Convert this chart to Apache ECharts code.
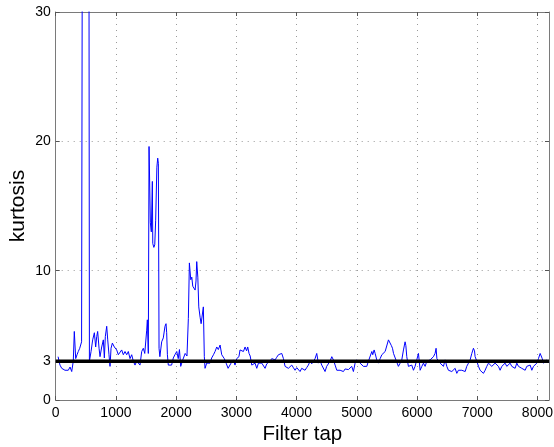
<!DOCTYPE html>
<html>
<head>
<meta charset="utf-8">
<script src="https://cdn.jsdelivr.net/npm/echarts@6/dist/echarts.min.js"></script>
<style>
html,body{margin:0;padding:0;background:#fff;}
#c{width:554px;height:447px;}
</style>
</head>
<body>
<div id="c"></div>
<script>
var taps = [40,71,100,126,154,183,209,238,266,292,309,332,354,375,399,430,445,550,560,587,614,642,664,681,697,720,736,764,791,808,824,847,864,885,902,919,941,974,1013,1040,1068,1096,1123,1151,1179,1206,1234,1262,1289,1317,1346,1372,1400,1428,1455,1479,1511,1522,1538,1550,1572,1588,1605,1612,1630,1645,1660,1680,1694,1705,1716,1730,1760,1787,1815,1832,1843,1855,1870,1900,1925,1953,1980,2010,2035,2055,2076,2110,2150,2180,2203,2220,2243,2260,2276,2290,2315,2330,2342,2360,2376,2398,2415,2435,2452,2468,2480,2508,2535,2563,2590,2620,2646,2675,2700,2730,2757,2800,2830,2863,2890,2912,2950,2978,3006,3030,3043,3061,3089,3117,3145,3170,3189,3211,3230,3256,3284,3310,3339,3367,3395,3422,3450,3477,3505,3533,3560,3588,3615,3644,3670,3699,3726,3754,3782,3809,3837,3864,3892,3920,3947,3975,4003,4030,4058,4085,4113,4141,4168,4196,4224,4252,4280,4307,4335,4362,4390,4418,4445,4473,4500,4528,4556,4585,4612,4640,4668,4696,4723,4750,4778,4806,4833,4861,4889,4916,4944,4972,5000,5027,5055,5083,5110,5138,5166,5193,5220,5250,5265,5288,5305,5332,5360,5388,5416,5443,5471,5499,5526,5554,5575,5593,5610,5650,5691,5720,5747,5775,5802,5815,5830,5857,5885,5913,5941,5968,5996,6024,6035,6052,6080,6107,6135,6163,6190,6218,6246,6273,6300,6317,6330,6356,6384,6411,6439,6467,6495,6522,6550,6578,6605,6633,6661,6688,6716,6744,6771,6800,6826,6855,6882,6910,6937,6955,6965,6993,7021,7048,7076,7103,7131,7159,7187,7214,7242,7270,7297,7325,7352,7380,7408,7436,7463,7491,7519,7546,7574,7602,7629,7657,7685,7713,7740,7768,7796,7823,7851,7879,7907,7934,7962,7990,8017,8045,8062,8080,8100,8130,8158,8190];
var kurt = [3.35,2.7,2.45,2.6,2.3,2.45,2.3,2.55,2.2,3.0,5.3,3.2,3.5,3.75,4.0,4.5,45,45,3.0,3.75,4.65,5.2,4.1,4.9,5.3,4.0,3.35,4.1,4.65,3.25,4.9,5.7,4.65,3.5,2.6,4.0,4.4,4.1,3.87,3.5,3.35,3.87,3.5,3.75,3.5,3.75,3.2,3.5,3.0,2.7,3.0,2.85,2.7,3.75,4.0,3.6,5.4,6.2,3.6,19.6,13.7,13.0,16.9,12.1,11.8,12.0,13.9,18.0,18.7,18.3,4.0,3.35,4.5,4.8,5.7,5.9,5.2,3.5,2.7,2.85,2.7,3.25,3.5,3.75,3.2,3.9,2.6,3.1,3.6,3.4,6.3,10.6,9.3,9.5,8.8,8.9,8.5,9.2,10.7,9.5,7.2,6.4,5.9,5.9,7.2,3.35,2.45,2.85,2.7,2.85,3.25,3.5,3.75,4.1,3.9,4.25,3.5,3.2,2.85,2.45,2.5,2.85,3.1,2.7,3.2,3.1,3.35,3.87,4.0,3.75,4.1,3.8,4.1,3.6,3.4,2.7,2.6,2.85,2.45,2.85,2.95,2.85,3.0,2.45,2.8,2.7,3.0,3.2,3.1,3.1,3.3,3.5,3.5,3.6,3.2,2.6,2.5,2.45,2.6,2.7,2.5,2.3,2.5,2.45,2.2,2.45,2.6,2.3,2.5,2.7,3.0,2.8,3.0,3.2,3.6,2.85,3.05,2.7,2.6,2.2,2.6,2.7,3.0,3.35,3.1,2.7,2.3,2.4,2.3,2.35,2.2,2.4,2.3,2.35,2.45,2.6,2.2,2.85,3.1,3.0,2.85,2.7,2.6,2.45,2.6,3.0,3.1,3.75,3.5,3.87,3.6,3.1,2.85,3.2,3.5,3.4,3.75,3.87,4.65,4.5,4.2,4.0,3.6,3.1,2.6,2.85,3.1,3.87,4.5,4.2,3.35,2.6,2.5,2.7,2.3,2.6,3.1,3.6,3.1,2.3,2.6,2.85,2.6,3.0,2.85,3.1,3.0,3.35,3.6,4.0,3.2,3.1,2.85,3.0,2.6,3.1,2.6,2.3,2.45,2.2,2.3,2.45,2.06,2.3,2.2,2.3,2.45,2.2,2.6,2.85,3.1,3.6,4.0,3.8,3.35,3.0,2.6,2.3,2.2,2.06,2.3,2.6,2.85,2.7,2.6,2.6,2.85,3.0,2.6,2.3,2.6,2.7,2.85,2.6,2.45,2.85,2.6,2.7,2.45,2.85,2.6,2.7,2.45,2.6,2.3,2.6,2.45,2.7,2.3,2.6,2.45,2.85,3.2,3.6,3.75,3.2,2.85,2.7,3.1,2.9];
var refLevel = 3;
var xTicks = [0,1000,2000,3000,4000,5000,6000,7000,8000];
var yTicks = [0,3,10,20,30];
var xMax = 8192;

var blueData = taps.map(function(t,i){return [t,kurt[i]];});
var refData = [[0,refLevel],[xMax,refLevel]];

var axisLineStyle = {color:'#7a7a7a', width:1};
var tickStyle = {color:'#555', width:1};
var gridStyle = {color:'#9a9a9a', width:1, type:[1,5]};
var font = 'Liberation Sans, Arial, Helvetica, sans-serif';
var plain = function(v){return String(v);};

var chart = echarts.init(document.getElementById('c'), null, {renderer:'canvas'});
chart.setOption({
  animation:false,
  backgroundColor:'#fff',
  grid:{left:55.7, top:12, right:5, bottom:47, containLabel:false, outerBoundsMode:'none'},
  xAxis:[{
    type:'value', min:0, max:xMax, position:'bottom',
    axisLine:{show:true, onZero:false, lineStyle:axisLineStyle},
    axisTick:{show:true, inside:true, length:4, lineStyle:tickStyle, customValues:xTicks},
    axisLabel:{show:true, margin:6, color:'#000', fontSize:14, fontFamily:font, customValues:xTicks, formatter:plain},
    splitLine:{show:true, lineStyle:gridStyle},
    name:'Filter tap', nameLocation:'middle', nameGap:24, nameMoveOverlap:false,
    nameTextStyle:{fontSize:20.5, color:'#000', fontFamily:font}
  },{
    type:'value', min:0, max:xMax, position:'top',
    axisLine:{show:true, onZero:false, lineStyle:axisLineStyle},
    axisTick:{show:true, inside:true, length:4, lineStyle:tickStyle, customValues:xTicks},
    axisLabel:{show:false, customValues:xTicks},
    splitLine:{show:false}
  }],
  yAxis:[{
    type:'value', min:0, max:30, position:'left',
    axisLine:{show:true, onZero:false, lineStyle:axisLineStyle},
    axisTick:{show:true, inside:true, length:4, lineStyle:tickStyle, customValues:yTicks},
    axisLabel:{show:true, margin:5, color:'#000', fontSize:14, fontFamily:font, customValues:yTicks, formatter:plain},
    splitLine:{show:true, lineStyle:gridStyle},
    name:'kurtosis', nameLocation:'middle', nameGap:27, nameRotate:90, nameMoveOverlap:false,
    nameTextStyle:{fontSize:21, color:'#000', fontFamily:font}
  },{
    type:'value', min:0, max:30, position:'right',
    axisLine:{show:true, onZero:false, lineStyle:axisLineStyle},
    axisTick:{show:true, inside:true, length:4, lineStyle:tickStyle, customValues:yTicks},
    axisLabel:{show:false, customValues:yTicks},
    splitLine:{show:false}
  }],
  series:[{
    type:'line', data:blueData, xAxisIndex:0, yAxisIndex:0,
    showSymbol:false, symbol:'none', clip:true,
    lineStyle:{color:'#0000ff', width:1}, z:2
  },{
    type:'line', data:refData, xAxisIndex:0, yAxisIndex:0,
    showSymbol:false, symbol:'none', clip:true,
    lineStyle:{color:'#000', width:3.5}, z:3
  }]
});
</script>
</body>
</html>
